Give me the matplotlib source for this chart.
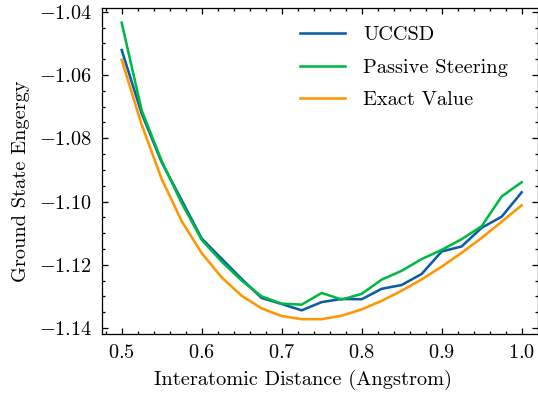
import matplotlib
matplotlib.use("Agg")
import matplotlib.pyplot as plt
from matplotlib.ticker import AutoMinorLocator

# SciencePlots-like look, Computer Modern via the bundled cmr10 font
plt.rcParams['font.family'] = 'serif'
plt.rcParams['font.serif'] = ['cmr10', 'DejaVu Serif']
plt.rcParams['mathtext.fontset'] = 'cm'
plt.rcParams['axes.formatter.use_mathtext'] = True
plt.rcParams['font.size'] = 9.5
plt.rcParams['axes.linewidth'] = 0.6
plt.rcParams['xtick.direction'] = 'in'
plt.rcParams['ytick.direction'] = 'in'
plt.rcParams['xtick.top'] = True
plt.rcParams['ytick.right'] = True
plt.rcParams['xtick.major.size'] = 3
plt.rcParams['ytick.major.size'] = 3
plt.rcParams['xtick.minor.size'] = 1.5
plt.rcParams['ytick.minor.size'] = 1.5
plt.rcParams['xtick.major.width'] = 0.6
plt.rcParams['ytick.major.width'] = 0.6
plt.rcParams['xtick.minor.width'] = 0.6
plt.rcParams['ytick.minor.width'] = 0.6
plt.rcParams['xtick.major.pad'] = 4.5
plt.rcParams['ytick.major.pad'] = 4.5
plt.rcParams['lines.linewidth'] = 1.2

distance = [0.5, 0.525, 0.55, 0.575, 0.6, 0.625, 0.65, 0.675, 0.7, 0.725, 0.75,
            0.775, 0.8, 0.825, 0.85, 0.875, 0.9, 0.925, 0.95, 0.975, 1.0]

uccsd = [-1.0521, -1.0722, -1.0876, -1.0996, -1.1117, -1.1181, -1.1245, -1.1305,
         -1.1324, -1.1344, -1.1318, -1.1308, -1.1309, -1.1276, -1.1264, -1.1229,
         -1.1158, -1.1142, -1.1083, -1.1048, -1.0971]

passive = [-1.0435, -1.0712, -1.0872, -1.1005, -1.1121, -1.1190, -1.1250, -1.1300,
           -1.1323, -1.1326, -1.1289, -1.1310, -1.1292, -1.1247, -1.1219, -1.1182,
           -1.1153, -1.1119, -1.1078, -1.0984, -1.0939]

exact = [-1.0552, -1.0757, -1.0929, -1.1062, -1.1163, -1.1240, -1.1298, -1.1338,
         -1.1362, -1.1372, -1.1372, -1.1361, -1.1341, -1.1314, -1.1282, -1.1246,
         -1.1206, -1.1162, -1.1115, -1.1064, -1.1012]

DPI = 154
fig, ax = plt.subplots(figsize=(538 / DPI, 401 / DPI), dpi=DPI)
fig.subplots_adjust(left=101.7 / 538, right=537.5 / 538, top=1 - 8 / 401, bottom=1 - 334 / 401)

ax.plot(distance, uccsd, color='#0C5DA5', label='UCCSD')
ax.plot(distance, passive, color='#00B945', label='Passive Steering')
ax.plot(distance, exact, color='#FF9500', label='Exact Value')

ax.set_xlim(0.475, 1.0198)
ax.xaxis.set_minor_locator(AutoMinorLocator())
ax.yaxis.set_minor_locator(AutoMinorLocator())

# labels sit a little toward the lower-left in the original
ax.set_xlabel('Interatomic Distance (Angstrom)', x=0.462)
ax.set_ylabel('Ground State Engergy', y=0.468)
ax.legend(loc='upper left', bbox_to_anchor=(0.437, 0.969), borderaxespad=0,
          frameon=False, handlelength=2.2, handletextpad=0.9, labelspacing=0.7)

fig.savefig('out.png', dpi=DPI)
